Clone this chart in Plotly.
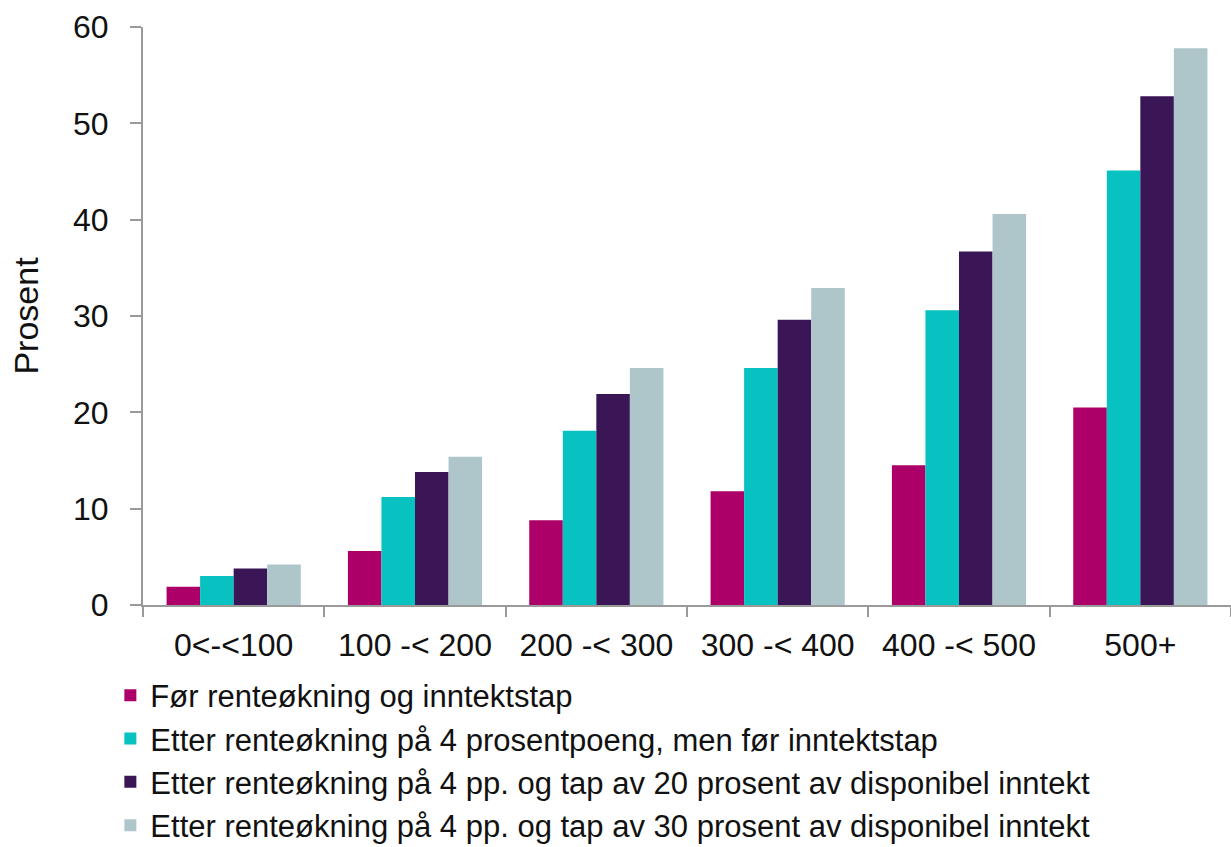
import plotly.graph_objects as go

# Income groups (1000 NOK) and share of households in each scenario (percent)
categories = ["0<-<100", "100 -< 200", "200 -< 300", "300 -< 400", "400 -< 500", "500+"]

series_names = [
    "Før renteøkning og inntektstap",
    "Etter renteøkning på 4 prosentpoeng, men før inntektstap",
    "Etter renteøkning på 4 pp. og tap av 20 prosent av disponibel inntekt",
    "Etter renteøkning på 4 pp. og tap av 30 prosent av disponibel inntekt",
]

before = [1.9, 5.6, 8.8, 11.8, 14.5, 20.5]
rate_up = [3.0, 11.2, 18.1, 24.6, 30.6, 45.1]
loss_20 = [3.8, 13.8, 21.9, 29.6, 36.7, 52.8]
loss_30 = [4.2, 15.4, 24.6, 32.9, 40.6, 57.8]

colors = ["#AC0068", "#08C1C1", "#3B1657", "#AEC5C9"]

fig = go.Figure()
for name, vals, col in zip(series_names, [before, rate_up, loss_20, loss_30], colors):
    fig.add_trace(go.Bar(
        x=categories, y=vals, name=name,
        marker=dict(color=col, line=dict(width=0)),
    ))

font_family = "Liberation Sans, Arial, sans-serif"
axis_color = "#9a9a9a"

fig.update_layout(
    width=1231, height=847,
    margin=dict(l=143, r=0, t=27, b=242, autoexpand=False),
    paper_bgcolor="white", plot_bgcolor="white",
    barmode="group", bargap=0.26, bargroupgap=0,
    font=dict(family=font_family, size=32, color="#111111"),
    showlegend=True,
    legend=dict(
        x=-0.03, y=-0.11, xanchor="left", yanchor="top",
        orientation="v", traceorder="normal",
        font=dict(size=31, color="#111111"),
        tracegroupgap=0,
        bgcolor="rgba(0,0,0,0)",
    ),
    xaxis=dict(
        showline=True, linecolor=axis_color, linewidth=2,
        ticks="outside", tickson="boundaries", ticklen=10, tickwidth=2,
        tickcolor=axis_color, showgrid=False,
        tickfont=dict(size=32), ticklabelstandoff=11,
    ),
    yaxis=dict(
        range=[0, 60], tickvals=[0, 10, 20, 30, 40, 50, 60],
        showline=True, linecolor=axis_color, linewidth=2,
        ticks="outside", ticklen=11, tickwidth=2, tickcolor=axis_color,
        showgrid=False, zeroline=False,
        tickfont=dict(size=32), ticklabelstandoff=15,
        title=dict(text="Prosent", font=dict(size=34), standoff=24),
    ),
)

fig.write_html("out.html")
